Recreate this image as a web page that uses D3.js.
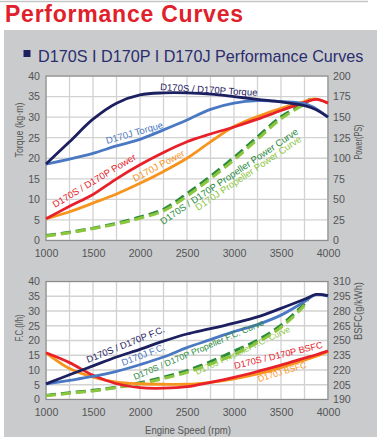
<!DOCTYPE html>
<html><head><meta charset="utf-8">
<script src="https://cdn.jsdelivr.net/npm/d3@7"></script>
<style>body{margin:0;background:#fff}svg{display:block;font-family:"Liberation Sans",Arial,sans-serif}</style>
</head><body><svg id="c" width="377" height="438"></svg>
<script>
// ---------- data ----------
const rpm        = [1000,1250,1500,1750,2000,2250,2500,2750,3000,3250,3500,3750,3875,4000];
const torqueSP   = [18.6,24.0,29.5,33.4,35.4,35.9,35.9,35.6,35.0,34.3,33.7,32.8,31.8,30.0];
const torqueJ    = [18.6,19.8,21.2,23.0,24.6,26.9,29.3,31.9,33.4,34.0,33.8,33.3,32.0,30.0];
const powerSP    = [26.5,41.5,56,75,92,107,120,129.5,138,147.5,158,168,171.5,167];
const powerJ     = [26.5,35,45.5,56.5,69.5,84,100,120,138.5,150.7,160.8,169,172,167];
const propRpmSP  = [1000,1250,1500,1750,2000,2250,2500,2750,3000,3250,3500,3750,3810];
const propPowerSP= [6,10,15,21,28.5,38,57,78,101,126,150.5,167,172];
const propRpmJ   = [1000,1250,1500,1750,2000,2250,2500,2750,3000,3250,3500,3750,3825];
const propPowerJ = [5.5,9.5,14.5,20,27,36,54,75,98,123,148,166,172.5];

const fcSP       = [5.3,8.4,11.4,14.4,17.0,19.8,22.2,24.0,25.9,28.0,30.9,34.0,35.6,35.2];
const fcJ        = [5.3,6.5,7.8,9.5,11.8,14.4,17.6,20.3,23.0,25.4,28.6,33.2,35.6,35.0];
const propFcRpmSP= [1000,1250,1500,1750,2000,2250,2500,2750,3000,3250,3500,3750,3785];
const propFcSP   = [1.4,2.3,3.1,4.2,5.7,7.6,9.8,12.8,16.4,20.1,25.2,32.6,34.3];
const propFcRpmJ = [1000,1250,1500,1750,2000,2250,2500,2750,3000,3250,3500,3750,3790];
const propFcJ    = [1.3,2.1,2.9,4.0,5.3,7.1,9.2,12.0,15.2,19.3,24.5,32.0,34.3];
const bsfcSP     = [237.5,227.5,214.6,206,202,201.5,203,207.5,212.5,218.5,225,232,235.5,239.5];
const bsfcJ      = [237.5,221.5,212.8,207.7,206,205.5,205.5,207.5,211,216,222.5,230,234,238.5];

const xTicks      = [1000,1500,2000,2500,3000,3500,4000];
const torqueTicks = [0,5,10,15,20,25,30,35,40];
const powerTicks  = [0,25,50,75,100,125,150,175,200];
const fcTicks     = [0,5,10,15,20,25,30,35,40];
const bsfcTicks   = [190,205,220,235,250,265,280,295,310];

// ---------- drawing ----------
const svg = d3.select("#c");
const C = {navy:"#1d2060", blue:"#4a78c2", red:"#e8202a", orange:"#f7941d", dgreen:"#2b8a3c", lgreen:"#8cc63f", tick:"#555"};

svg.append("line").attr("x1",0).attr("x2",368).attr("y1",1.5).attr("y2",1.5).attr("stroke","#c4c4c4").attr("stroke-width",1.5);
svg.append("text").attr("x",5).attr("y",22).attr("fill","#e0202a").attr("font-weight","bold")
  .attr("font-size",23).attr("textLength",238).attr("lengthAdjust","spacing").text("Performance Curves");
svg.append("rect").attr("x",4).attr("y",30).attr("width",373).attr("height",407).attr("fill","#c9cbcd");
svg.append("rect").attr("x",23.5).attr("y",50).attr("width",7).attr("height",7).attr("fill",C.navy);
svg.append("text").attr("x",38).attr("y",61.5).attr("fill","#2b2e6e").attr("font-size",16.2)
  .text("D170S I D170P I D170J Performance Curves");

const x = d3.scaleLinear([1000,4000],[46,328]);

function vtitle(g, txt, bx, cy, len) {
  g.append("text").attr("transform",`translate(${bx},${cy}) rotate(-90)`).attr("text-anchor","middle")
    .attr("fill",C.tick).attr("font-size",10.3).attr("textLength",len).attr("lengthAdjust","spacingAndGlyphs").text(txt);
}

function panel(top, bottom, lDom, lTicks, rDom, rTicks, xPad) {
  const yl = d3.scaleLinear(lDom,[bottom,top]);
  const yr = d3.scaleLinear(rDom,[bottom,top]);
  const g = svg.append("g");
  g.append("rect").attr("x",46).attr("y",top).attr("width",282).attr("height",bottom-top).attr("fill","#fff");
  const vg = d3.range(1000,4001,250);
  g.selectAll(".vg").data(vg).join("line").attr("x1",d=>x(d)).attr("x2",d=>x(d)).attr("y1",top).attr("y2",bottom)
    .attr("stroke","#d2d2d2").attr("stroke-width",1.3);
  g.selectAll(".hg").data(lTicks).join("line").attr("x1",46).attr("x2",328).attr("y1",d=>yl(d)).attr("y2",d=>yl(d))
    .attr("stroke","#d2d2d2").attr("stroke-width",1.3);
  g.append("rect").attr("x",46).attr("y",top).attr("width",282).attr("height",bottom-top).attr("fill","none")
    .attr("stroke","#8c8c8c").attr("stroke-width",1.2);
  const ax = (a)=>a.tickSize(0);
  const la = g.append("g").attr("transform","translate(46,0)").call(ax(d3.axisLeft(yl).tickValues(lTicks).tickPadding(6)));
  const ra = g.append("g").attr("transform","translate(328,0)").call(ax(d3.axisRight(yr).tickValues(rTicks).tickPadding(5)));
  const ba = g.append("g").attr("transform",`translate(0,${bottom})`).call(ax(d3.axisBottom(x).tickValues(xTicks).tickFormat(d3.format("d")).tickPadding(xPad)));
  [la,ra,ba].forEach(a=>{a.select(".domain").remove();a.selectAll("text").attr("fill",C.tick).attr("font-size",10.6).attr("font-family","'Liberation Sans',Arial,sans-serif");});
  return {yl, yr, g};
}

function draw(g, xs, ys, y, color, dashed, w) {
  const line = d3.line().x((d,i)=>x(xs[i])).y(d=>y(d)).curve(d3.curveCatmullRom.alpha(0.5));
  const p = g.append("path").attr("d",line(ys)).attr("fill","none").attr("stroke",color)
    .attr("stroke-width",w||2.8).attr("stroke-linecap","butt").attr("stroke-linejoin","round");
  if (dashed) p.attr("stroke-dasharray","10,5");
  return p;
}
function label(txt, x0, y0, ang, color, fs) {
  svg.append("text").attr("transform",`translate(${x0},${y0}) rotate(${ang})`).attr("fill",color)
    .attr("font-size",fs).text(txt);
}

// top panel
const T = panel(76, 240.5, [0,40], torqueTicks, [0,200], powerTicks, 9);
vtitle(T.g, "Torque (kg·m)", 23, 130, 55);
vtitle(T.g, "Power(PS)", 361.5, 142, 35);
draw(T.g, propRpmSP, propPowerSP, T.yr, C.dgreen, true, 3);
draw(T.g, propRpmJ, propPowerJ, T.yr, C.lgreen, true, 3);
draw(T.g, rpm, powerJ, T.yr, C.orange);
draw(T.g, rpm, powerSP, T.yr, C.red);
draw(T.g, rpm, torqueJ, T.yl, C.blue);
draw(T.g, rpm, torqueSP, T.yl, C.navy);

label("D170S / D170P Torque", 160, 90, 3.5, C.navy, 9.5);
label("D170J Torque", 107, 144, -16, C.blue, 9.5);
label("D170S / D170P Power", 55, 208, -31, C.red, 9.5);
label("D170J Power", 135, 182, -28, C.orange, 9.5);
label("D170S / D170P Propeller Power Curve", 163, 225, -34, C.dgreen, 9.5);
label("D170J Propeller Power Curve", 198, 211, -34, C.lgreen, 9.5);

// bottom panel
const B = panel(281.5, 399.5, [0,40], fcTicks, [190,310], bsfcTicks, 8.5);
vtitle(B.g, "F.C.(l/h)", 23, 328, 27);
vtitle(B.g, "BSFC(g/kWh)", 361.5, 311, 58);
draw(B.g, propFcRpmSP, propFcSP, B.yl, C.dgreen, true, 3);
draw(B.g, propFcRpmJ, propFcJ, B.yl, C.lgreen, true, 3);
draw(B.g, rpm, bsfcJ, B.yr, C.orange);
draw(B.g, rpm, bsfcSP, B.yr, C.red);
draw(B.g, rpm, fcJ, B.yl, C.blue);
draw(B.g, rpm, fcSP, B.yl, C.navy);

label("D170S / D170P F.C.", 88, 363, -22, C.navy, 9.3);
label("D170J F.C.", 123, 366, -21, C.blue, 9.3);
label("D170S / D170P Propeller F.C. Curve", 135, 380, -23, C.dgreen, 8.7);
label("D170J Propeller F.C. Curve", 197, 375, -25, C.lgreen, 8.5);
label("D170S / D170P BSFC", 235, 369, -13.5, C.red, 9.2);
label("D170J BSFC", 259, 382, -17, C.orange, 8.6);

svg.append("text").attr("x",188).attr("y",434).attr("text-anchor","middle").attr("fill",C.tick).attr("font-size",10.5)
  .attr("textLength",86).attr("lengthAdjust","spacingAndGlyphs").text("Engine Speed (rpm)");
</script></body></html>
